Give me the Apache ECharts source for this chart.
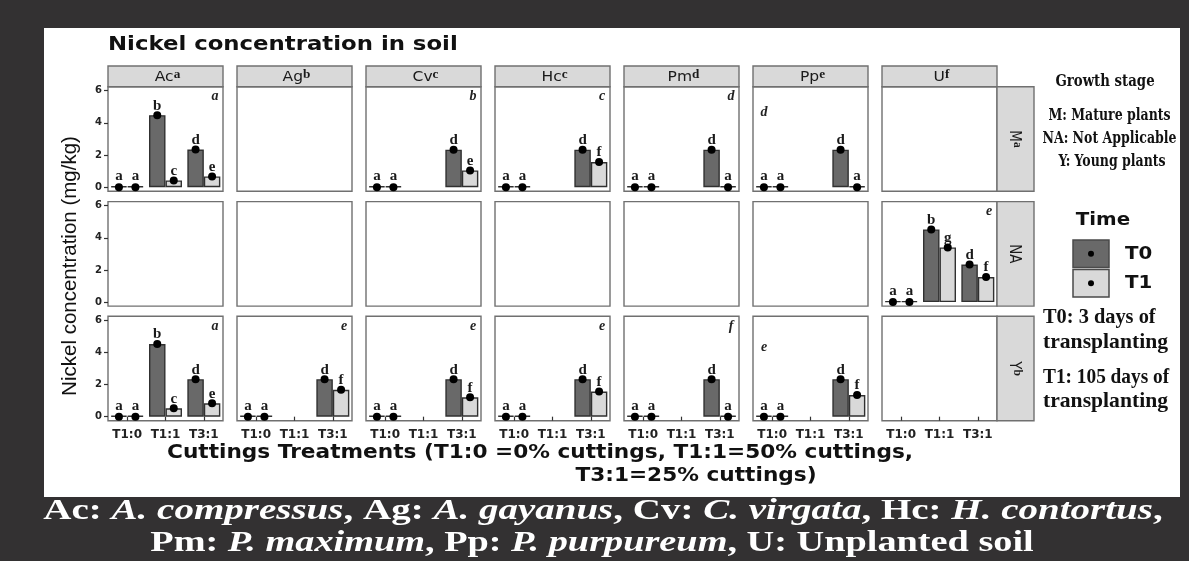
<!DOCTYPE html>
<html><head><meta charset="utf-8">
<script src="https://cdn.jsdelivr.net/npm/echarts@6/dist/echarts.min.js"></script>
<style>html,body{margin:0;padding:0;background:#333132}#c{width:1189px;height:561px}</style>
</head><body><div id="c"></div>
<script>
// ---------- data ----------
const categories = ['T1:0', 'T1:1', 'T3:1'];
const species = ['Ac', 'Ag', 'Cv', 'Hc', 'Pm', 'Pp', 'U'];
const speciesLetters = ['a', 'b', 'c', 'c', 'd', 'e', 'f'];
const stages = ['M', 'NA', 'Y'];
const stageLetters = ['a', '', 'b'];
const yTicks = [0, 2, 4, 6];
const timeNames = ['T0', 'T1'];

// Nickel concentration (mg/kg), per species: [T1:0, T1:1, T3:1]; null = not measured
const t0_M  = [[0, 4.48, 2.34], null, [0, null, 2.33], [0, null, 2.33], [0, null, 2.33], [0, null, 2.33], null];
const t1_M  = [[0, 0.42, 0.67], null, [0, null, 1.04], [0, null, 1.56], [0, null, 0], [0, null, 0], null];
const t0_NA = [null, null, null, null, null, null, [0, 4.52, 2.33]];
const t1_NA = [null, null, null, null, null, null, [0, 3.40, 1.56]];
const t0_Y  = [[0, 4.52, 2.33], [0, null, 2.33], [0, null, 2.33], [0, null, 2.33], [0, null, 2.33], [0, null, 2.33], null];
const t1_Y  = [[0, 0.52, 0.83], [0, null, 1.67], [0, null, 1.21], [0, null, 1.56], [0, null, 0], [0, null, 1.35], null];

// significance letters above bars
const sig0_M  = [['a','b','d'], null, ['a','','d'], ['a','','d'], ['a','','d'], ['a','','d'], null];
const sig1_M  = [['a','c','e'], null, ['a','','e'], ['a','','f'], ['a','','a'], ['a','','a'], null];
const sig0_NA = [null, null, null, null, null, null, ['a','b','d']];
const sig1_NA = [null, null, null, null, null, null, ['a','g','f']];
const sig0_Y  = [['a','b','d'], ['a','','d'], ['a','','d'], ['a','','d'], ['a','','d'], ['a','','d'], null];
const sig1_Y  = [['a','c','e'], ['a','','f'], ['a','','f'], ['a','','f'], ['a','','a'], ['a','','f'], null];

// panel letters (italic, in panel corner)
const panelLetter_M  = ['a', '', 'b', 'c', 'd', 'd', ''];
const panelLetter_NA = ['', '', '', '', '', '', 'e'];
const panelLetter_Y  = ['a', 'e', 'e', 'e', 'f', 'e', ''];
const panelLetterSide = ['r', 'r', 'r', 'r', 'r', 'l', 'r'];

// ---------- layout ----------
const COL0 = 108, COL_STEP = 129, PW = 115, PH = 104.5;
const ROW_TOPS = [86.7, 201.6, 316.2];
const STRIP_TOP = 66, STRIP_H = 20.7, RSTRIP_W = 37;
const C_T0 = '#696969', C_T1 = '#d9d9d9', C_EDGE = '#303030';
const C_PANEL = '#707070';

const rows = [
  {t0: t0_M,  t1: t1_M,  s0: sig0_M,  s1: sig1_M,  pl: panelLetter_M},
  {t0: t0_NA, t1: t1_NA, s0: sig0_NA, s1: sig1_NA, pl: panelLetter_NA},
  {t0: t0_Y,  t1: t1_Y,  s0: sig0_Y,  s1: sig1_Y,  pl: panelLetter_Y}
];

const grids = [], xAxes = [], yAxes = [], series = [], graphics = [];

// white plot background
graphics.push({type: 'rect', z: -100, silent: true, shape: {x: 44, y: 28, width: 1136, height: 469}, style: {fill: '#ffffff'}});

const barLabel = (letters) => ({
  show: true, position: 'top', distance: 2,
  formatter: p => letters[p.dataIndex] || '',
  fontFamily: 'Liberation Serif', fontWeight: 'bold', fontSize: 15, color: '#1a1a1a'
});

rows.forEach((row, r) => {
  for (let c = 0; c < species.length; c++) {
    const gi = grids.length;
    const left = COL0 + c * COL_STEP, top = ROW_TOPS[r];
    grids.push({left: left, top: top, width: PW, height: PH, show: true,
      borderColor: C_PANEL, borderWidth: 1.4, backgroundColor: '#ffffff'});
    xAxes.push({gridIndex: gi, type: 'category', data: categories,
      axisLine: {show: false},
      axisTick: {show: r === 2, alignWithLabel: true, interval: 0, length: 4, lineStyle: {color: '#333', width: 1.2}},
      axisLabel: {show: r === 2, interval: 0, margin: 8, fontFamily: 'DejaVu Sans', fontWeight: 'bold', fontSize: 12, color: '#222'},
      splitLine: {show: false}});
    yAxes.push({gridIndex: gi, type: 'value', min: -0.25, max: 6.25,
      axisLine: {show: false},
      axisTick: {show: c === 0, customValues: yTicks, length: 4, lineStyle: {color: '#333', width: 1.2}},
      axisLabel: {show: c === 0, customValues: yTicks, margin: 6, fontFamily: 'DejaVu Sans', fontWeight: 'bold', fontSize: 10, color: '#222'},
      splitLine: {show: false}});

    const common = {xAxisIndex: gi, yAxisIndex: gi, barWidth: 16.5, barGap: '0%', animation: false, silent: true};
    if (row.t0[c]) {
      series.push(Object.assign({type: 'bar', name: timeNames[0], data: row.t0[c], barMinHeight: 1,
        itemStyle: {color: C_T0, borderColor: C_EDGE, borderWidth: 1.4}, label: barLabel(row.s0[c]), z: 2}, common));
      series.push(Object.assign({type: 'bar', name: timeNames[1], data: row.t1[c], barMinHeight: 1,
        itemStyle: {color: C_T1, borderColor: C_EDGE, borderWidth: 1.4}, label: barLabel(row.s1[c]), z: 2}, common));
      series.push(Object.assign({type: 'pictorialBar', name: timeNames[0] + ' mean', data: row.t0[c],
        symbol: 'circle', symbolSize: [8, 8], symbolPosition: 'end', symbolOffset: [0, '-50%'],
        itemStyle: {color: '#000'}, z: 4}, common));
      series.push(Object.assign({type: 'pictorialBar', name: timeNames[1] + ' mean', data: row.t1[c],
        symbol: 'circle', symbolSize: [8, 8], symbolPosition: 'end', symbolOffset: [0, '-50%'],
        itemStyle: {color: '#000'}, z: 4}, common));
    }
    // panel corner letter
    const pl = row.pl[c];
    if (pl) {
      const side = panelLetterSide[c];
      graphics.push({type: 'text', z: 50, silent: true,
        x: side === 'r' ? left + PW - 8 : left + 11,
        y: side === 'r' ? top + 10 : top + (r === 0 ? 26 : 31),
        style: {text: pl, fill: '#222', font: 'italic bold 14px "Liberation Serif"',
          align: 'center', verticalAlign: 'middle', textAlign: 'center', textVerticalAlign: 'middle'}});
    }
  }
});

// strips
const stripRich = {
  n: {fontFamily: 'DejaVu Sans', fontSize: 13.5, fill: '#1a1a1a', lineHeight: 16, verticalAlign: 'bottom'},
  s: {fontFamily: 'Liberation Serif', fontWeight: 'bold', fontSize: 11.5, fill: '#1a1a1a', lineHeight: 8, verticalAlign: 'top'}
};
species.forEach((sp, c) => {
  const left = COL0 + c * COL_STEP;
  graphics.push({type: 'rect', z: 10, silent: true, shape: {x: left, y: STRIP_TOP, width: PW, height: STRIP_H},
    style: {fill: '#d9d9d9', stroke: C_PANEL, lineWidth: 1.4}});
  graphics.push({type: 'text', z: 11, silent: true, x: left + PW / 2 + 2, y: STRIP_TOP + STRIP_H / 2 + 0.5, scaleX: 1.15,
    style: {text: '{n|' + sp + '}{s|' + speciesLetters[c] + '}', rich: stripRich,
      align: 'center', verticalAlign: 'middle', textAlign: 'center', textVerticalAlign: 'middle'}});
});
stages.forEach((st, r) => {
  const x0 = COL0 + 6 * COL_STEP + PW;
  graphics.push({type: 'rect', z: 10, silent: true, shape: {x: x0, y: ROW_TOPS[r], width: RSTRIP_W, height: PH},
    style: {fill: '#d9d9d9', stroke: C_PANEL, lineWidth: 1.4}});
  graphics.push({type: 'text', z: 11, silent: true, x: x0 + RSTRIP_W / 2, y: ROW_TOPS[r] + PH / 2, rotation: -Math.PI / 2,
    scaleY: 1.15,
    style: {text: '{n|' + st + '}' + (stageLetters[r] ? '{s|' + stageLetters[r] + '}' : ''), rich: stripRich,
      align: 'center', verticalAlign: 'middle', textAlign: 'center', textVerticalAlign: 'middle'}});
});

function txt(x, y, text, font, align, opts) {
  return Object.assign({type: 'text', z: 60, silent: true, x: x, y: y,
    style: {text: text, font: font, fill: '#111', align: align, verticalAlign: 'middle',
      textAlign: align, textVerticalAlign: 'middle'}}, opts || {});
}
// titles
graphics.push(txt(108, 45, 'Nickel concentration in soil', 'bold 19px "DejaVu Sans"', 'left', {scaleX: 1.2}));
graphics.push(txt(70, 266, 'Nickel concentration (mg/kg)', '20.5px "Liberation Sans"', 'center', {rotation: Math.PI / 2}));
graphics.push(txt(540, 453, 'Cuttings Treatments (T1:0 =0% cuttings, T1:1=50% cuttings,', 'bold 19px "DejaVu Sans"', 'center', {scaleX: 1.14}));
graphics.push(txt(696, 476, 'T3:1=25% cuttings)', 'bold 19px "DejaVu Sans"', 'center', {scaleX: 1.14}));

// growth stage legend
const condFont = (s) => 'bold ' + s + 'px "DejaVu Serif Condensed"';
graphics.push(txt(1105, 82, 'Growth stage', condFont(17), 'center', {scaleX: 0.87}));
graphics.push(txt(1109.5, 116, 'M: Mature plants', condFont(16), 'center', {scaleX: 0.87}));
graphics.push(txt(1109.5, 139, 'NA: Not Applicable', condFont(16), 'center', {scaleX: 0.87}));
graphics.push(txt(1112, 162, 'Y: Young plants', condFont(16), 'center', {scaleX: 0.87}));

// time legend
graphics.push(txt(1103, 220, 'Time', 'bold 18px "DejaVu Sans"', 'center', {scaleX: 1.1}));
[[C_T0, 240], [C_T1, 269.5]].forEach((k, i) => {
  graphics.push({type: 'rect', z: 60, silent: true, shape: {x: 1073, y: k[1], width: 36, height: 27.5},
    style: {fill: k[0], stroke: '#4a4a4a', lineWidth: 1.5}});
  graphics.push({type: 'circle', z: 61, silent: true, shape: {cx: 1091, cy: k[1] + 13.75, r: 3}, style: {fill: '#000'}});
  graphics.push(txt(1125, k[1] + 14, timeNames[i], 'bold 18px "DejaVu Sans"', 'left', {scaleX: 1.1}));
});
const noteFont = 'bold 21px "Liberation Serif"';
graphics.push(txt(1043, 318, 'T0: 3 days of', noteFont, 'left', {scaleX: 0.97}));
graphics.push(txt(1043, 343, 'transplanting', noteFont, 'left', {scaleX: 1.03}));
graphics.push(txt(1043, 378, 'T1: 105 days of', noteFont, 'left', {scaleX: 0.92}));
graphics.push(txt(1043, 402, 'transplanting', noteFont, 'left', {scaleX: 1.03}));

// caption
const capRich = {
  b: {fontFamily: 'Liberation Serif', fontWeight: 'bold', fontSize: 29, fill: '#ffffff'},
  i: {fontFamily: 'Liberation Serif', fontWeight: 'bold', fontStyle: 'italic', fontSize: 29, fill: '#ffffff'}
};
const capLine1 = '{b|Ac: }{i|A. compressus}{b|, Ag: }{i|A. gayanus}{b|, Cv: }{i|C. virgata}{b|, Hc: }{i|H. contortus}{b|,}';
const capLine2 = '{b|Pm: }{i|P. maximum}{b|, Pp: }{i|P. purpureum}{b|, U: Unplanted soil}';
graphics.push({type: 'text', z: 60, silent: true, x: 603, y: 512, scaleX: 1.345,
  style: {text: capLine1, rich: capRich, align: 'center', verticalAlign: 'middle', textAlign: 'center', textVerticalAlign: 'middle'}});
graphics.push({type: 'text', z: 60, silent: true, x: 592, y: 544, scaleX: 1.32,
  style: {text: capLine2, rich: capRich, align: 'center', verticalAlign: 'middle', textAlign: 'center', textVerticalAlign: 'middle'}});

const chart = echarts.init(document.getElementById('c'), null, {renderer: 'canvas'});
chart.setOption({
  backgroundColor: '#333132',
  animation: false,
  grid: grids, xAxis: xAxes, yAxis: yAxes, series: series,
  graphic: {elements: graphics}
});
</script></body></html>
